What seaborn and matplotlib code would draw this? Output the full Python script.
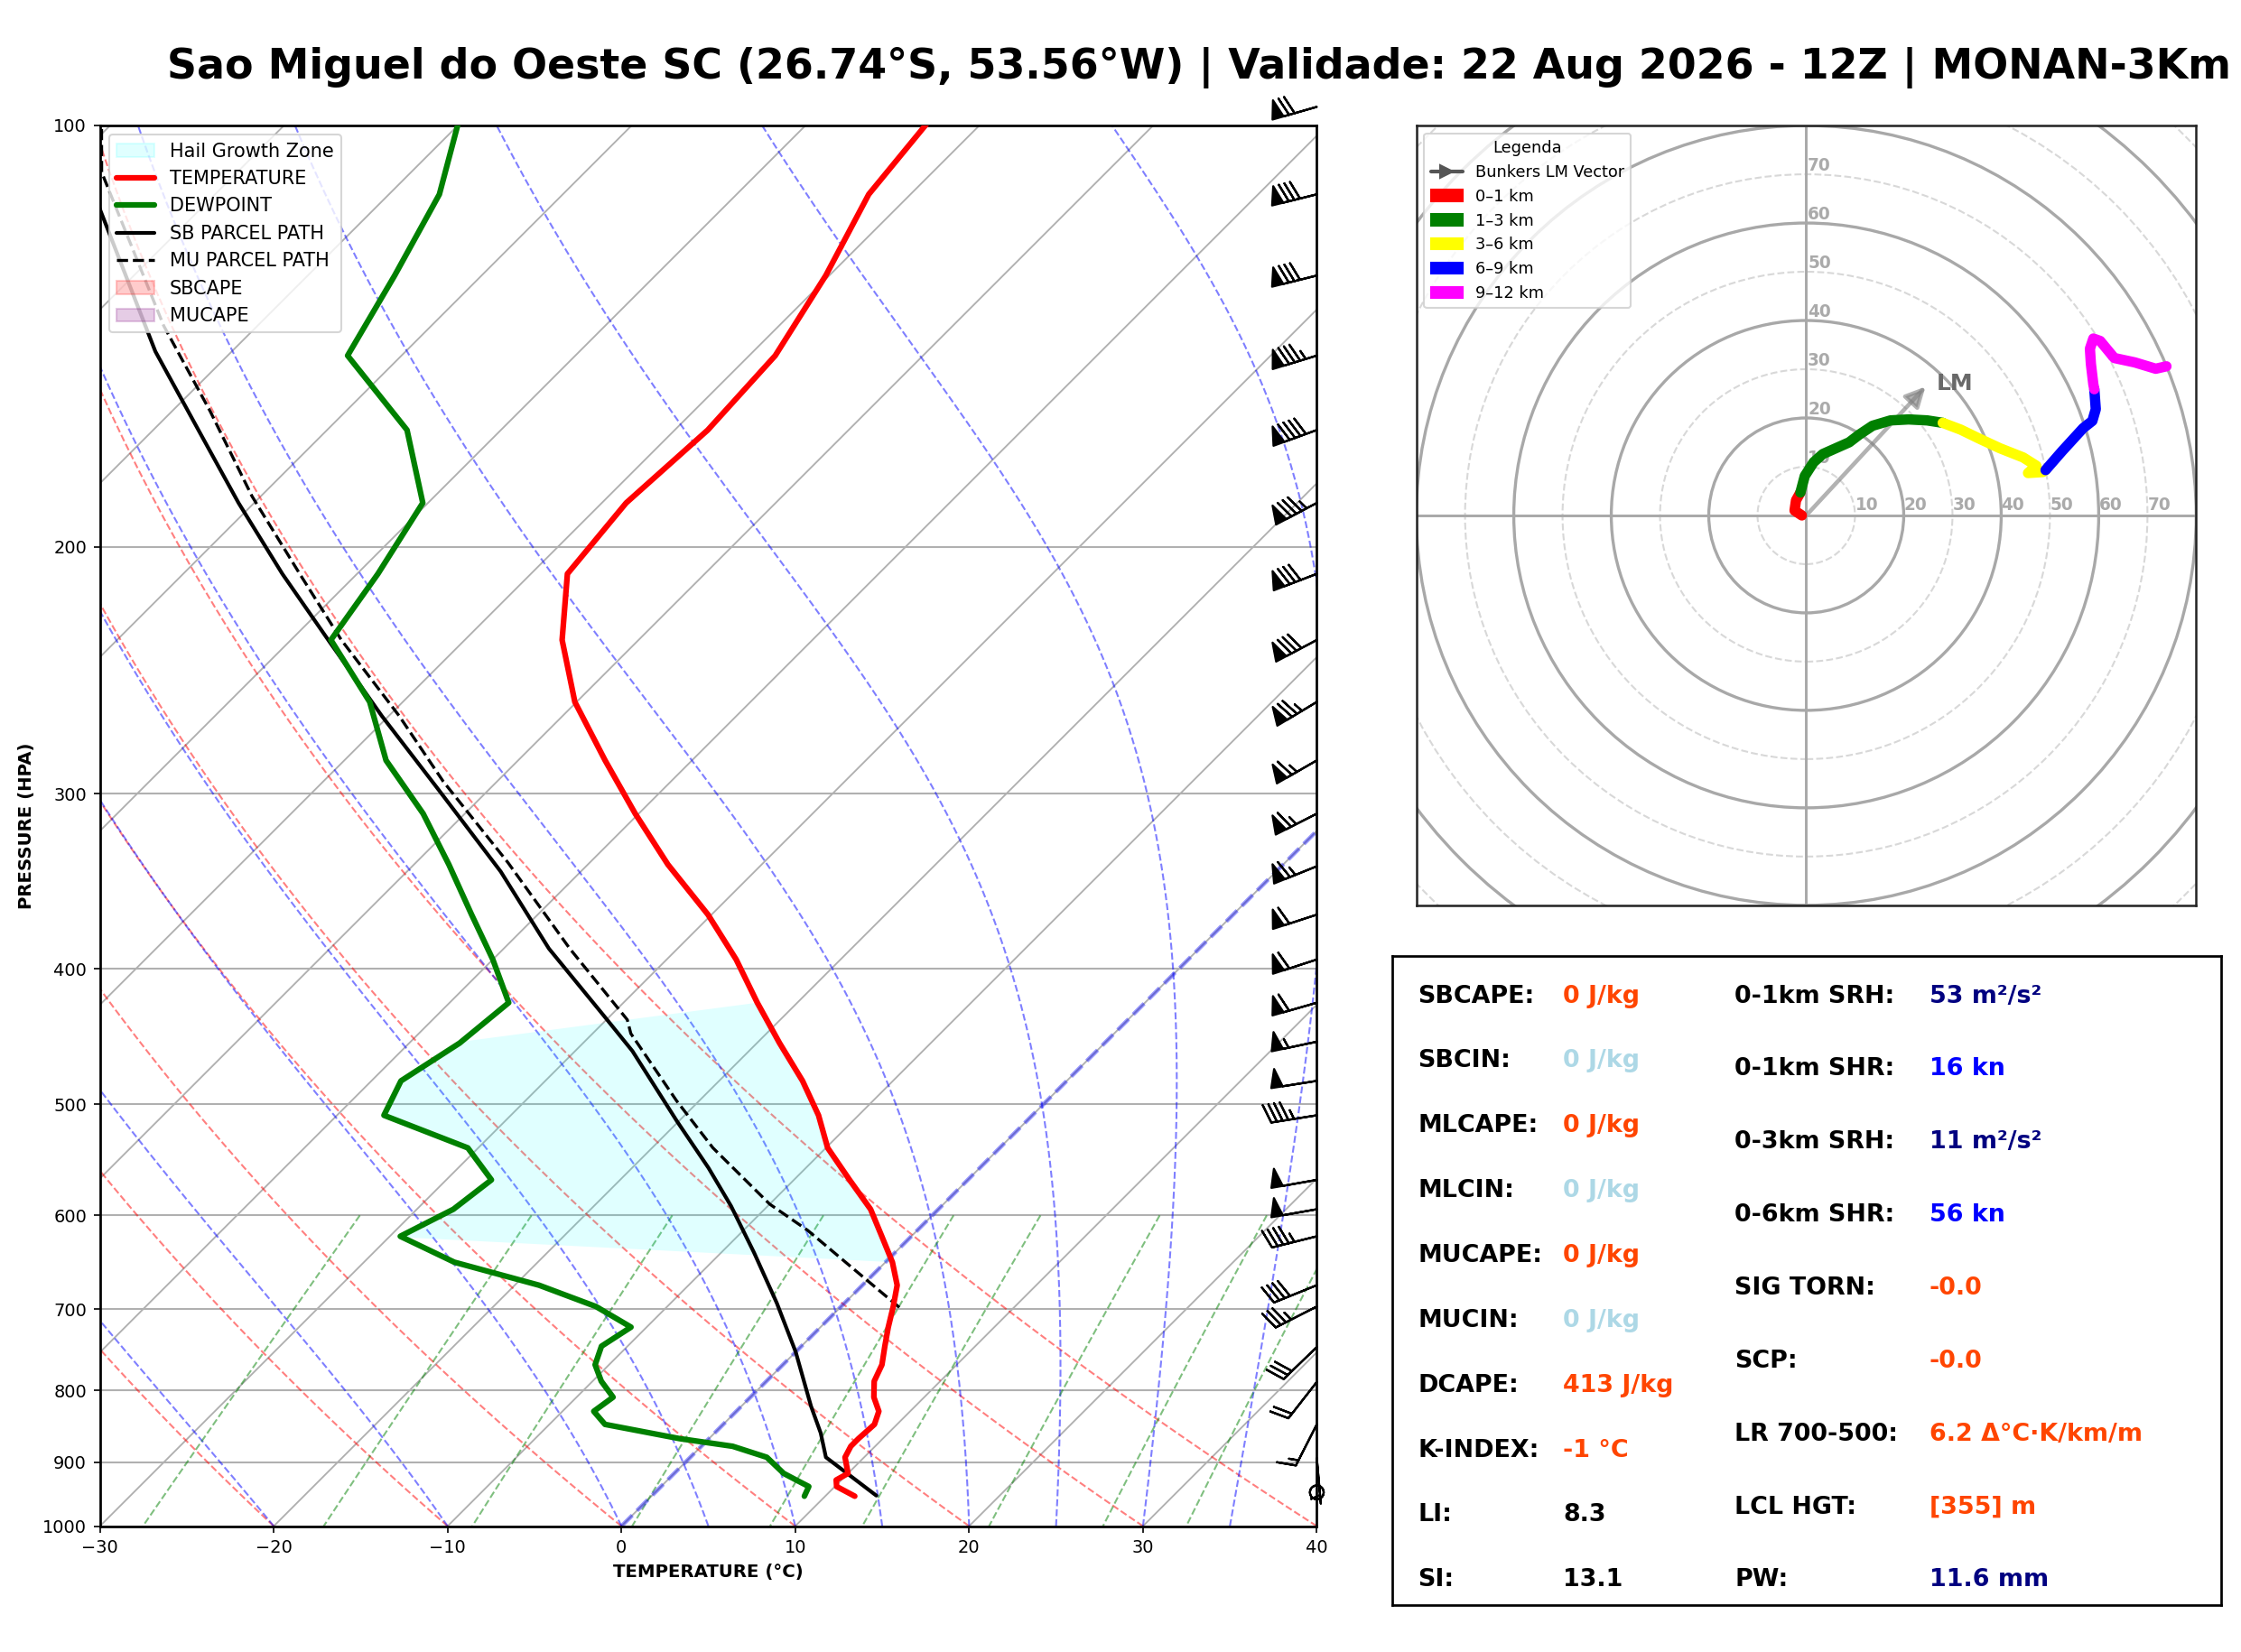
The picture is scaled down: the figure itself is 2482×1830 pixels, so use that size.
import numpy as np
import pandas as pd
import seaborn as sns
import matplotlib.pyplot as plt
import matplotlib.transforms as mtransforms
from matplotlib.patches import Patch, Circle
from matplotlib.lines import Line2D
from matplotlib.ticker import NullLocator

# sounding levels (hPa), temperature and dewpoint (degC)
pres = [952, 937, 927, 917, 893, 877, 866, 846, 828, 809, 788, 767, 744, 721, 697,
        673, 648, 621, 594, 566, 537, 509, 481, 452, 423, 394, 366, 337, 310, 284,
        258, 233, 209, 186, 165, 146, 128, 112, 97]
temp = [11.7, 10.1, 9.7, 10.0, 8.9, 8.6, 8.6, 8.7, 8.2, 7.1, 6.2, 5.7, 4.8, 3.9, 3.0,
        2.0, 0.4, -1.7, -3.9, -6.8, -9.9, -12.3, -15.2, -18.7, -22.3, -26.0, -30.2, -35.4, -40.2, -45.0,
        -50.1, -54.4, -57.9, -58.6, -58.1, -58.5, -60.2, -62.4, -63.3]
dewp = [8.8, 8.5, 7.4, 6.3, 4.4, 1.8, -1.7, -6.8, -8.2, -7.9, -9.5, -10.8, -11.5, -10.9, -14.1,
        -18.6, -24.8, -29.4, -27.9, -27.4, -30.6, -37.3, -38.3, -37.1, -36.6, -40.0, -43.8, -48.0, -52.4, -57.6,
        -61.9, -67.7, -68.8, -70.3, -75.4, -83.1, -85.0, -87.1, -90.8]

# parcel paths
sb_pres = [951, 893, 858, 821, 751, 693, 638, 591, 555, 514, 458, 432, 387, 341, 298,
           264, 234, 209, 186, 165, 145, 114, 100]
sb_temp = [12.9, 7.8, 6.1, 4.0, 0.0, -3.9, -8.1, -12.1, -15.6, -20.1, -26.7, -30.4, -37.4, -44.6, -52.9,
           -60.4, -67.6, -74.3, -80.9, -87.4, -94.4, -106.1, -112.0]
mu_pres = [698, 615, 589, 537, 497, 445, 435, 387, 336, 294, 264, 233, 209, 184, 160, 139, 108, 100]
mu_temp = [3.4, -6.3, -10.0, -16.5, -21.3, -27.8, -28.8, -36.2, -44.7, -53.1, -59.4, -67.1, -73.3, -80.5,
           -87.8, -95.4, -107.8, -110.5]

# hail growth zone edges (hPa): on dewpoint side (bottom, top), on temperature side (top, bottom)
hgz_td_pres = [622, 451]
hgz_t_pres = [423, 648]

# wind barbs
barb_pres = [946, 894, 846, 789, 745, 697, 673, 621, 594, 566, 509, 481, 451, 423, 394,
             366, 338, 310, 284, 258, 233, 209, 186, 165, 146, 128, 112, 97]
barb_spd = [1, 5, 15, 20, 30, 35, 40, 45, 50, 50, 45, 50, 55, 60, 60,
            60, 65, 65, 65, 75, 80, 80, 85, 90, 85, 80, 80, 70]
barb_dir = [180, 175, 207, 218, 226, 243, 248, 256, 260, 260, 261, 261, 258, 254, 252,
            252, 248, 243, 240, 239, 242, 249, 242, 250, 253, 256, 256, 254]

# hodograph trace (kn) by layer
hodo_layers = ['0–1 km', '1–3 km', '3–6 km', '6–9 km', '9–12 km']
hodo_colors = ['red', 'green', 'yellow', 'blue', 'magenta']
hodo_u = [
    [-0.9, -2.4, -2.1, -1.2],
    [-1.2, -0.3, 1.5, 3.4, 6.1, 8.8, 10.9, 13.6, 17.3, 21.0, 24.8, 28.0],
    [28.0, 31.7, 35.4, 39.7, 44.5, 47.2, 45.5, 48.5, 49.1],
    [49.1, 52.5, 56.8, 58.7, 59.4, 59.1],
    [59.1, 58.9, 58.4, 58.2, 58.9, 60.3, 63.2, 67.4, 71.7, 73.9],
]
hodo_v = [
    [0.0, 1.0, 3.1, 4.7],
    [4.7, 8.1, 10.9, 12.6, 13.8, 15.0, 16.6, 18.4, 19.5, 19.7, 19.5, 19.0],
    [19.0, 17.6, 15.8, 13.8, 11.9, 10.2, 8.7, 8.9, 9.3],
    [9.3, 13.2, 17.9, 19.4, 21.8, 25.9],
    [25.9, 26.9, 31.1, 34.2, 36.3, 35.8, 32.3, 31.4, 30.1, 30.6],
]
lm_u, lm_v = 25.0, 27.0

# indices panel
left_labels = ['SBCAPE:', 'SBCIN:', 'MLCAPE:', 'MLCIN:', 'MUCAPE:', 'MUCIN:', 'DCAPE:', 'K-INDEX:', 'LI:', 'SI:']
left_values = ['0 J/kg', '0 J/kg', '0 J/kg', '0 J/kg', '0 J/kg', '0 J/kg', '413 J/kg', '-1 °C', '8.3', '13.1']
left_colors = ['orangered', 'lightblue', 'orangered', 'lightblue', 'orangered', 'lightblue',
               'orangered', 'orangered', 'black', 'black']
right_labels = ['0-1km SRH:', '0-1km SHR:', '0-3km SRH:', '0-6km SHR:', 'SIG TORN:', 'SCP:',
                'LR 700-500:', 'LCL HGT:', 'PW:']
right_values = ['53 m²/s²', '16 kn', '11 m²/s²', '56 kn', '-0.0', '-0.0', '6.2 Δ°C·K/km/m', '[355] m', '11.6 mm']
right_colors = ['navy', 'blue', 'navy', 'blue', 'orangered', 'orangered', 'orangered', 'orangered', 'navy']

title = 'Sao Miguel do Oeste SC (26.74°S, 53.56°W) | Validade: 22 Aug 2026 - 12Z | MONAN-3Km'

sns.set_style('ticks')
plt.rcParams['font.family'] = ['DejaVu Sans']
plt.rcParams['text.color'] = 'black'
plt.rcParams['axes.labelcolor'] = 'black'
plt.rcParams['xtick.color'] = 'black'
plt.rcParams['ytick.color'] = 'black'

DPI = 150
fig = plt.figure(figsize=(2482 / DPI, 1830 / DPI), dpi=DPI)
ax = fig.add_axes([0.0446, 0.0762, 0.5430, 0.8479])
hax = fig.add_axes([0.632, 0.452, 0.348, 0.472])
tax = fig.add_axes([0.6212, 0.0286, 0.370, 0.3927])

# skew so that isotherms run at 45 degrees on screen
ax_w = 0.5430 * 2482
ax_h = 0.8479 * 1830
SKEW = (ax_h / np.log(10)) / (ax_w / 70.0)


def sx(t, p):
    return np.asarray(t, dtype=float) + SKEW * np.log(1000.0 / np.asarray(p, dtype=float))


# background lines
pp = np.linspace(1000, 100, 120)
for t0 in range(-130, 50, 10):
    ax.plot(sx([t0, t0], [1000, 100]), [1000, 100], color='#b0b0b0', lw=0.9, zorder=1)

for t0 in np.arange(-40, 41, 10):
    tk = (t0 + 273.15) * (pp / 1000.0) ** 0.2857 - 273.15
    ax.plot(sx(tk, pp), pp, color='red', ls='--', lw=1, alpha=0.5, zorder=1)


def moist_line(t0c):
    Rd, Cp, Lv, eps = 287.04749, 1004.6662, 2.50084e6, 0.62196

    def dtdp(t, p):
        es = 6.112 * np.exp(17.67 * (t - 273.15) / (t - 29.65))
        rs = eps * es / (p - es)
        return (Rd * t + Lv * rs) / (Cp + Lv * Lv * rs * eps / (Rd * t * t)) / p

    ps = np.linspace(1000, 100, 400)
    ts = [t0c + 273.15]
    for i in range(len(ps) - 1):
        h = ps[i + 1] - ps[i]
        t, p = ts[-1], ps[i]
        k1 = dtdp(t, p)
        k2 = dtdp(t + h * k1 / 2, p + h / 2)
        k3 = dtdp(t + h * k2 / 2, p + h / 2)
        k4 = dtdp(t + h * k3, p + h)
        ts.append(t + h * (k1 + 2 * k2 + 2 * k3 + k4) / 6)
    return ps, np.array(ts) - 273.15


for t0 in list(range(-30, 0, 10)) + list(range(0, 46, 5)):
    mp, mt = moist_line(t0)
    ax.plot(sx(mt, mp), mp, color='blue', ls='--', lw=1, alpha=0.5, zorder=1)

pw = np.linspace(600, 1000, 30)
for w in [0.0004, 0.001, 0.002, 0.004, 0.007, 0.01, 0.016, 0.024, 0.032]:
    e = w * pw / (0.62196 + w)
    lg = np.log(e / 6.112)
    td = 243.5 * lg / (17.67 - lg)
    ax.plot(sx(td, pw), pw, color='green', ls='--', lw=1, alpha=0.5, zorder=1)

ax.plot(sx([0, 0], [1000, 100]), [1000, 100], color='blue', ls='--', lw=2.2, alpha=0.4, zorder=2)

# hail growth zone
lp = np.log(pres)
td_side = [p for p in pres if hgz_td_pres[1] < p < hgz_td_pres[0]]
td_p = [hgz_td_pres[0]] + td_side + [hgz_td_pres[1]]
t_side = [p for p in pres[::-1] if hgz_t_pres[0] < p < hgz_t_pres[1]]
t_p = [hgz_t_pres[0]] + t_side + [hgz_t_pres[1]]
td_x = sx(np.interp(np.log(td_p), lp[::-1], np.array(dewp)[::-1]), td_p)
t_x = sx(np.interp(np.log(t_p), lp[::-1], np.array(temp)[::-1]), t_p)
ax.fill(np.concatenate([td_x, t_x]), np.concatenate([td_p, t_p]), color='cyan', alpha=0.12, lw=0, zorder=2)

# profiles
sns.lineplot(x=sx(temp, pres), y=pres, sort=False, estimator=None, color='red', lw=3, ax=ax, zorder=5)
sns.lineplot(x=sx(dewp, pres), y=pres, sort=False, estimator=None, color='green', lw=3, ax=ax, zorder=5)
sns.lineplot(x=sx(sb_temp, sb_pres), y=sb_pres, sort=False, estimator=None, color='black', lw=2, ax=ax, zorder=4)
sns.lineplot(x=sx(mu_temp, mu_pres), y=mu_pres, sort=False, estimator=None, color='black', lw=1.6,
             ls='--', ax=ax, zorder=4)

# barbs on right edge
bd = np.deg2rad(barb_dir)
bu = -np.array(barb_spd) * np.sin(bd)
bv = -np.array(barb_spd) * np.cos(bd)
btr = mtransforms.blended_transform_factory(ax.transAxes, ax.transData)
ax.barbs(np.ones(len(barb_pres)), barb_pres, bu, bv, transform=btr, clip_on=False,
         length=7, lw=1.1, color='black', zorder=6)

ax.set_yscale('log')
ax.set_ylim(1000, 100)
ax.set_xlim(-30, 40)
ax.set_yticks(np.arange(100, 1001, 100))
ax.set_yticklabels([str(v) for v in range(100, 1001, 100)])
ax.yaxis.set_minor_locator(NullLocator())
ax.set_xticks(np.arange(-30, 41, 10))
ax.tick_params(labelsize=9.3)
ax.yaxis.grid(True, color='#b0b0b0', lw=1)
ax.set_xlabel('TEMPERATURE (°C)', fontsize=9.5, fontweight='bold')
ax.set_ylabel('PRESSURE (HPA)', fontsize=9.5, fontweight='bold')
for s in ax.spines.values():
    s.set_color('black')
    s.set_linewidth(1.3)

handles = [
    Patch(facecolor='cyan', edgecolor='cyan', alpha=0.12, label='Hail Growth Zone'),
    Line2D([0], [0], color='red', lw=3, label='TEMPERATURE'),
    Line2D([0], [0], color='green', lw=3, label='DEWPOINT'),
    Line2D([0], [0], color='black', lw=2, label='SB PARCEL PATH'),
    Line2D([0], [0], color='black', lw=1.6, ls='--', label='MU PARCEL PATH'),
    Patch(facecolor='red', edgecolor='red', alpha=0.2, label='SBCAPE'),
    Patch(facecolor='purple', edgecolor='purple', alpha=0.2, label='MUCAPE'),
]
ax.legend(handles=handles, loc='upper left', fontsize=10)

# hodograph
for r in range(10, 130, 10):
    if r % 20 == 0:
        hax.add_patch(Circle((0, 0), r, fill=False, color='#a8a8a8', lw=1.6, zorder=1))
    else:
        hax.add_patch(Circle((0, 0), r, fill=False, color='#d8d8d8', lw=1, ls='--', zorder=1))
hax.axhline(0, color='#a8a8a8', lw=1.4, zorder=1)
hax.axvline(0, color='#a8a8a8', lw=1.4, zorder=1)
for r in range(10, 80, 10):
    hax.text(r, 0.3, str(r), color='#aaaaaa', fontsize=8.9, fontweight='bold', ha='left', va='bottom', zorder=2)
    hax.text(0.3, r, str(r), color='#aaaaaa', fontsize=8.9, fontweight='bold', ha='left', va='bottom', zorder=2)

rows = []
for name, us, vs in zip(hodo_layers, hodo_u, hodo_v):
    for i, (uu, vv) in enumerate(zip(us, vs)):
        rows.append({'layer': name, 'u': uu, 'v': vv, 'i': i})
hodo_df = pd.DataFrame(rows)
sns.lineplot(data=hodo_df, x='u', y='v', hue='layer', palette=dict(zip(hodo_layers, hodo_colors)),
             sort=False, estimator=None, lw=5.5, legend=False, ax=hax, zorder=4)

hax.annotate('', xy=(lm_u, lm_v), xytext=(0, 0),
             arrowprops=dict(arrowstyle='-|>', color='gray', lw=2.2, alpha=0.6, mutation_scale=22), zorder=3)
hax.text(lm_u + 1.8, lm_v, 'LM', color='dimgray', fontsize=12, fontweight='bold', ha='left', va='center')

hax.set_xlim(-80, 80)
hax.set_ylim(-80, 80)
hax.set_aspect('equal')
hax.set_xticks([])
hax.set_yticks([])
hax.set_xlabel('')
hax.set_ylabel('')
for s in hax.spines.values():
    s.set_color('#222222')
    s.set_linewidth(1.2)

hhandles = [Line2D([0], [0], color='#555555', lw=2, marker='>', markersize=7, label='Bunkers LM Vector')]
hhandles += [Patch(color=c, label=n) for n, c in zip(hodo_layers, hodo_colors)]
hax.legend(handles=hhandles, loc='upper left', fontsize=8.5, title='Legenda', title_fontsize=8.5,
           labelspacing=0.5)

# indices panel
tax.set_xlim(0, 1)
tax.set_ylim(0, 1)
tax.set_xticks([])
tax.set_yticks([])
for s in tax.spines.values():
    s.set_color('black')
    s.set_linewidth(1.3)
ly = np.linspace(0.938, 0.038, len(left_labels))
for y, lab, val, col in zip(ly, left_labels, left_values, left_colors):
    tax.text(0.031, y, lab, fontsize=12.9, fontweight='bold', va='center', ha='left')
    tax.text(0.206, y, val, fontsize=12.9, fontweight='bold', va='center', ha='left', color=col)
ry = np.linspace(0.938, 0.038, len(right_labels))
for y, lab, val, col in zip(ry, right_labels, right_values, right_colors):
    tax.text(0.413, y, lab, fontsize=12.9, fontweight='bold', va='center', ha='left')
    tax.text(0.648, y, val, fontsize=12.9, fontweight='bold', va='center', ha='left', color=col)

fig.text(185 / 2482, 1 - 86.7 / 1830, title, fontsize=22, fontweight='bold', ha='left', va='baseline')

fig.savefig('out.png', dpi=DPI)
